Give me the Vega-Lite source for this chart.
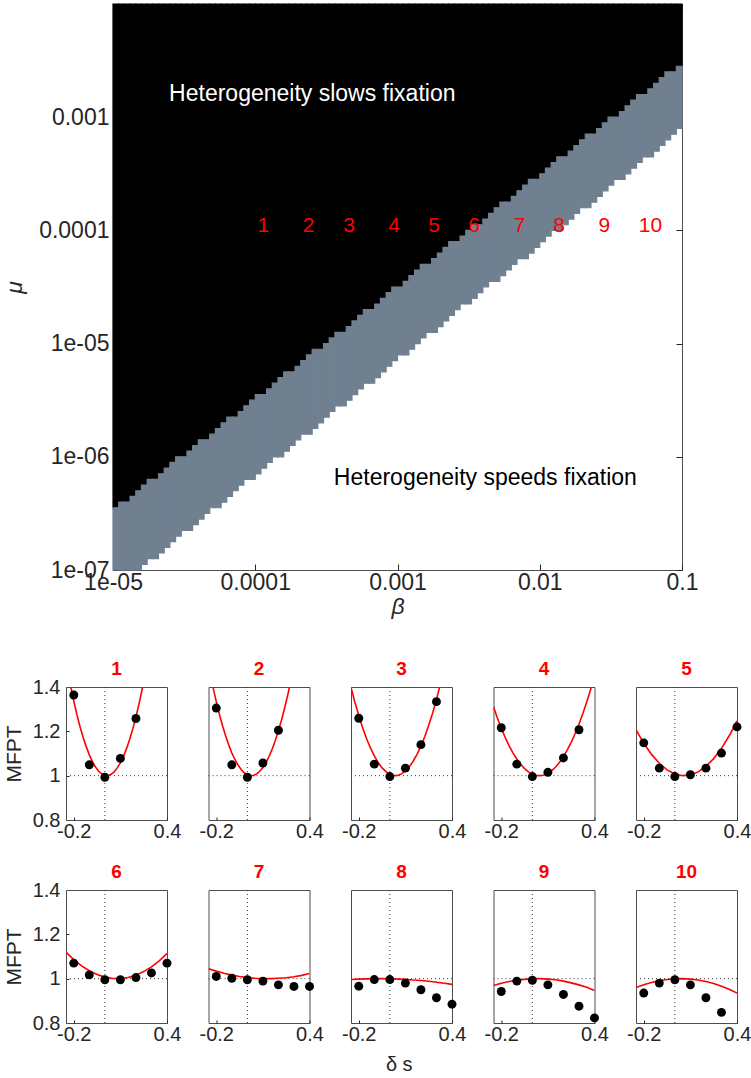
{
"$schema": "https://vega.github.io/schema/vega-lite/v6.json",
"background": "white",
"padding": {"left": 3, "top": 2, "right": 0, "bottom": 5},
"config": {
  "font": "Liberation Sans",
  "view": {"stroke": "#4d4d4d", "strokeWidth": 1},
  "axis": {"labelColor": "#262626", "titleColor": "#262626", "tickColor": "#262626", "domain": false, "grid": false, "labelFont": "Liberation Sans", "titleFont": "Liberation Sans", "titleFontWeight": "normal", "labelFlush": false, "labelOverlap": false}
},
"title": {"text": "δ s", "orient": "bottom", "anchor": "middle", "fontSize": 20, "fontWeight": "normal", "font": "Liberation Sans", "color": "#262626", "offset": 10, "dx": 22},
"datasets": {
"heat": [
{"b":1e-5,"b2":1.0965e-5,"lo":1e-7,"hi":3.5481e-7},
{"b":1.0965e-5,"b2":1.2023e-5,"lo":1e-7,"hi":3.9811e-7},
{"b":1.2023e-5,"b2":1.3183e-5,"lo":1e-7,"hi":3.9811e-7},
{"b":1.3183e-5,"b2":1.4454e-5,"lo":1e-7,"hi":4.4668e-7},
{"b":1.4454e-5,"b2":1.5849e-5,"lo":1e-7,"hi":5.0119e-7},
{"b":1.5849e-5,"b2":1.7378e-5,"lo":1.122e-7,"hi":5.6234e-7},
{"b":1.7378e-5,"b2":1.9055e-5,"lo":1.2589e-7,"hi":6.3096e-7},
{"b":1.9055e-5,"b2":2.0893e-5,"lo":1.2589e-7,"hi":6.3096e-7},
{"b":2.0893e-5,"b2":2.2909e-5,"lo":1.4125e-7,"hi":7.0795e-7},
{"b":2.2909e-5,"b2":2.5119e-5,"lo":1.5849e-7,"hi":7.9433e-7},
{"b":2.5119e-5,"b2":2.7542e-5,"lo":1.7783e-7,"hi":8.9125e-7},
{"b":2.7542e-5,"b2":3.02e-5,"lo":1.9953e-7,"hi":1e-6},
{"b":3.02e-5,"b2":3.3113e-5,"lo":2.2387e-7,"hi":1e-6},
{"b":3.3113e-5,"b2":3.6308e-5,"lo":2.2387e-7,"hi":1.122e-6},
{"b":3.6308e-5,"b2":3.9811e-5,"lo":2.5119e-7,"hi":1.2589e-6},
{"b":3.9811e-5,"b2":4.3652e-5,"lo":2.8184e-7,"hi":1.4125e-6},
{"b":4.3652e-5,"b2":4.7863e-5,"lo":3.1623e-7,"hi":1.4125e-6},
{"b":4.7863e-5,"b2":5.2481e-5,"lo":3.5481e-7,"hi":1.5849e-6},
{"b":5.2481e-5,"b2":5.7544e-5,"lo":3.5481e-7,"hi":1.7783e-6},
{"b":5.7544e-5,"b2":6.3096e-5,"lo":3.9811e-7,"hi":1.9953e-6},
{"b":6.3096e-5,"b2":6.9183e-5,"lo":4.4668e-7,"hi":2.2387e-6},
{"b":6.9183e-5,"b2":7.5858e-5,"lo":5.0119e-7,"hi":2.2387e-6},
{"b":7.5858e-5,"b2":8.3176e-5,"lo":5.6234e-7,"hi":2.5119e-6},
{"b":8.3176e-5,"b2":9.1201e-5,"lo":6.3096e-7,"hi":2.8184e-6},
{"b":9.1201e-5,"b2":1e-4,"lo":6.3096e-7,"hi":3.1623e-6},
{"b":1e-4,"b2":1.0965e-4,"lo":7.0795e-7,"hi":3.5481e-6},
{"b":1.0965e-4,"b2":1.2023e-4,"lo":7.9433e-7,"hi":3.5481e-6},
{"b":1.2023e-4,"b2":1.3183e-4,"lo":8.9125e-7,"hi":3.9811e-6},
{"b":1.3183e-4,"b2":1.4454e-4,"lo":1e-6,"hi":4.4668e-6},
{"b":1.4454e-4,"b2":1.5849e-4,"lo":1e-6,"hi":5.0119e-6},
{"b":1.5849e-4,"b2":1.7378e-4,"lo":1.122e-6,"hi":5.6234e-6},
{"b":1.7378e-4,"b2":1.9055e-4,"lo":1.2589e-6,"hi":5.6234e-6},
{"b":1.9055e-4,"b2":2.0893e-4,"lo":1.4125e-6,"hi":6.3096e-6},
{"b":2.0893e-4,"b2":2.2909e-4,"lo":1.5849e-6,"hi":7.0795e-6},
{"b":2.2909e-4,"b2":2.5119e-4,"lo":1.5849e-6,"hi":7.9433e-6},
{"b":2.5119e-4,"b2":2.7542e-4,"lo":1.7783e-6,"hi":8.9125e-6},
{"b":2.7542e-4,"b2":3.02e-4,"lo":1.9953e-6,"hi":8.9125e-6},
{"b":3.02e-4,"b2":3.3113e-4,"lo":2.2387e-6,"hi":1e-5},
{"b":3.3113e-4,"b2":3.6308e-4,"lo":2.5119e-6,"hi":1.122e-5},
{"b":3.6308e-4,"b2":3.9811e-4,"lo":2.8184e-6,"hi":1.2589e-5},
{"b":3.9811e-4,"b2":4.3652e-4,"lo":2.8184e-6,"hi":1.2589e-5},
{"b":4.3652e-4,"b2":4.7863e-4,"lo":3.1623e-6,"hi":1.4125e-5},
{"b":4.7863e-4,"b2":5.2481e-4,"lo":3.5481e-6,"hi":1.5849e-5},
{"b":5.2481e-4,"b2":5.7544e-4,"lo":3.9811e-6,"hi":1.7783e-5},
{"b":5.7544e-4,"b2":6.3096e-4,"lo":4.4668e-6,"hi":1.9953e-5},
{"b":6.3096e-4,"b2":6.9183e-4,"lo":4.4668e-6,"hi":1.9953e-5},
{"b":6.9183e-4,"b2":7.5858e-4,"lo":5.0119e-6,"hi":2.2387e-5},
{"b":7.5858e-4,"b2":8.3176e-4,"lo":5.6234e-6,"hi":2.5119e-5},
{"b":8.3176e-4,"b2":9.1201e-4,"lo":6.3096e-6,"hi":2.8184e-5},
{"b":9.1201e-4,"b2":1e-3,"lo":7.0795e-6,"hi":3.1623e-5},
{"b":1e-3,"b2":1.0965e-3,"lo":7.9433e-6,"hi":3.1623e-5},
{"b":1.0965e-3,"b2":1.2023e-3,"lo":7.9433e-6,"hi":3.5481e-5},
{"b":1.2023e-3,"b2":1.3183e-3,"lo":8.9125e-6,"hi":3.9811e-5},
{"b":1.3183e-3,"b2":1.4454e-3,"lo":1e-5,"hi":4.4668e-5},
{"b":1.4454e-3,"b2":1.5849e-3,"lo":1.122e-5,"hi":5.0119e-5},
{"b":1.5849e-3,"b2":1.7378e-3,"lo":1.2589e-5,"hi":5.0119e-5},
{"b":1.7378e-3,"b2":1.9055e-3,"lo":1.2589e-5,"hi":5.6234e-5},
{"b":1.9055e-3,"b2":2.0893e-3,"lo":1.4125e-5,"hi":6.3096e-5},
{"b":2.0893e-3,"b2":2.2909e-3,"lo":1.5849e-5,"hi":7.0795e-5},
{"b":2.2909e-3,"b2":2.5119e-3,"lo":1.7783e-5,"hi":7.9433e-5},
{"b":2.5119e-3,"b2":2.7542e-3,"lo":1.9953e-5,"hi":7.9433e-5},
{"b":2.7542e-3,"b2":3.02e-3,"lo":2.2387e-5,"hi":8.9125e-5},
{"b":3.02e-3,"b2":3.3113e-3,"lo":2.2387e-5,"hi":1e-4},
{"b":3.3113e-3,"b2":3.6308e-3,"lo":2.5119e-5,"hi":1.122e-4},
{"b":3.6308e-3,"b2":3.9811e-3,"lo":2.8184e-5,"hi":1.122e-4},
{"b":3.9811e-3,"b2":4.3652e-3,"lo":3.1623e-5,"hi":1.2589e-4},
{"b":4.3652e-3,"b2":4.7863e-3,"lo":3.5481e-5,"hi":1.4125e-4},
{"b":4.7863e-3,"b2":5.2481e-3,"lo":3.5481e-5,"hi":1.5849e-4},
{"b":5.2481e-3,"b2":5.7544e-3,"lo":3.9811e-5,"hi":1.7783e-4},
{"b":5.7544e-3,"b2":6.3096e-3,"lo":4.4668e-5,"hi":1.7783e-4},
{"b":6.3096e-3,"b2":6.9183e-3,"lo":5.0119e-5,"hi":1.9953e-4},
{"b":6.9183e-3,"b2":7.5858e-3,"lo":5.6234e-5,"hi":2.2387e-4},
{"b":7.5858e-3,"b2":8.3176e-3,"lo":5.6234e-5,"hi":2.5119e-4},
{"b":8.3176e-3,"b2":9.1201e-3,"lo":6.3096e-5,"hi":2.8184e-4},
{"b":9.1201e-3,"b2":1e-2,"lo":7.0795e-5,"hi":2.8184e-4},
{"b":1e-2,"b2":1.0965e-2,"lo":7.9433e-5,"hi":3.1623e-4},
{"b":1.0965e-2,"b2":1.2023e-2,"lo":8.9125e-5,"hi":3.5481e-4},
{"b":1.2023e-2,"b2":1.3183e-2,"lo":1e-4,"hi":3.9811e-4},
{"b":1.3183e-2,"b2":1.4454e-2,"lo":1e-4,"hi":4.4668e-4},
{"b":1.4454e-2,"b2":1.5849e-2,"lo":1.122e-4,"hi":4.4668e-4},
{"b":1.5849e-2,"b2":1.7378e-2,"lo":1.2589e-4,"hi":5.0119e-4},
{"b":1.7378e-2,"b2":1.9055e-2,"lo":1.4125e-4,"hi":5.6234e-4},
{"b":1.9055e-2,"b2":2.0893e-2,"lo":1.5849e-4,"hi":6.3096e-4},
{"b":2.0893e-2,"b2":2.2909e-2,"lo":1.5849e-4,"hi":7.0795e-4},
{"b":2.2909e-2,"b2":2.5119e-2,"lo":1.7783e-4,"hi":7.0795e-4},
{"b":2.5119e-2,"b2":2.7542e-2,"lo":1.9953e-4,"hi":7.9433e-4},
{"b":2.7542e-2,"b2":3.02e-2,"lo":2.2387e-4,"hi":8.9125e-4},
{"b":3.02e-2,"b2":3.3113e-2,"lo":2.5119e-4,"hi":1e-3},
{"b":3.3113e-2,"b2":3.6308e-2,"lo":2.8184e-4,"hi":1e-3},
{"b":3.6308e-2,"b2":3.9811e-2,"lo":2.8184e-4,"hi":1.122e-3},
{"b":3.9811e-2,"b2":4.3652e-2,"lo":3.1623e-4,"hi":1.2589e-3},
{"b":4.3652e-2,"b2":4.7863e-2,"lo":3.5481e-4,"hi":1.4125e-3},
{"b":4.7863e-2,"b2":5.2481e-2,"lo":3.9811e-4,"hi":1.5849e-3},
{"b":5.2481e-2,"b2":5.7544e-2,"lo":4.4668e-4,"hi":1.5849e-3},
{"b":5.7544e-2,"b2":6.3096e-2,"lo":4.4668e-4,"hi":1.7783e-3},
{"b":6.3096e-2,"b2":6.9183e-2,"lo":5.0119e-4,"hi":1.9953e-3},
{"b":6.9183e-2,"b2":7.5858e-2,"lo":5.6234e-4,"hi":2.2387e-3},
{"b":7.5858e-2,"b2":8.3176e-2,"lo":6.3096e-4,"hi":2.5119e-3},
{"b":8.3176e-2,"b2":9.1201e-2,"lo":7.0795e-4,"hi":2.5119e-3},
{"b":9.1201e-2,"b2":0.1,"lo":7.9433e-4,"hi":2.8184e-3}
],
"nums": [
{"n":"1","b":1.14e-4,"m":1.1e-4},
{"n":"2","b":2.37e-4,"m":1.1e-4},
{"n":"3","b":4.56e-4,"m":1.1e-4},
{"n":"4","b":9.46e-4,"m":1.1e-4},
{"n":"5","b":1.81e-3,"m":1.1e-4},
{"n":"6","b":3.46e-3,"m":1.1e-4},
{"n":"7","b":7.21e-3,"m":1.1e-4},
{"n":"8","b":1.37e-2,"m":1.1e-4},
{"n":"9","b":2.84e-2,"m":1.1e-4},
{"n":"10","b":6.0e-2,"m":1.1e-4}
],
"slow": [{"t":"Heterogeneity slows fixation","b":2.48e-5,"m":1.6e-3}],
"speed": [{"t":"Heterogeneity speeds fixation","b":3.57e-4,"m":6.5e-7}],
"panels": [
{"p":1,"k":"pt","ds":-0.2,"m":1.364},{"p":1,"k":"pt","ds":-0.1,"m":1.049},{"p":1,"k":"pt","ds":0,"m":0.993},{"p":1,"k":"pt","ds":0.1,"m":1.078},{"p":1,"k":"pt","ds":0.2,"m":1.258},
{"p":2,"k":"pt","ds":-0.2,"m":1.305},{"p":2,"k":"pt","ds":-0.1,"m":1.049},{"p":2,"k":"pt","ds":0,"m":0.993},{"p":2,"k":"pt","ds":0.1,"m":1.057},{"p":2,"k":"pt","ds":0.2,"m":1.205},
{"p":3,"k":"pt","ds":-0.2,"m":1.259},{"p":3,"k":"pt","ds":-0.1,"m":1.052},{"p":3,"k":"pt","ds":0,"m":0.996},{"p":3,"k":"pt","ds":0.1,"m":1.034},{"p":3,"k":"pt","ds":0.2,"m":1.14},{"p":3,"k":"pt","ds":0.3,"m":1.334},
{"p":4,"k":"pt","ds":-0.2,"m":1.216},{"p":4,"k":"pt","ds":-0.1,"m":1.052},{"p":4,"k":"pt","ds":0,"m":0.996},{"p":4,"k":"pt","ds":0.1,"m":1.015},{"p":4,"k":"pt","ds":0.2,"m":1.08},{"p":4,"k":"pt","ds":0.3,"m":1.207},
{"p":5,"k":"pt","ds":-0.2,"m":1.148},{"p":5,"k":"pt","ds":-0.1,"m":1.034},{"p":5,"k":"pt","ds":0,"m":0.996},{"p":5,"k":"pt","ds":0.1,"m":1.004},{"p":5,"k":"pt","ds":0.2,"m":1.034},{"p":5,"k":"pt","ds":0.3,"m":1.102},{"p":5,"k":"pt","ds":0.4,"m":1.22},
{"p":6,"k":"pt","ds":-0.2,"m":1.07},{"p":6,"k":"pt","ds":-0.1,"m":1.017},{"p":6,"k":"pt","ds":0,"m":0.995},{"p":6,"k":"pt","ds":0.1,"m":0.995},{"p":6,"k":"pt","ds":0.2,"m":1.005},{"p":6,"k":"pt","ds":0.3,"m":1.026},{"p":6,"k":"pt","ds":0.4,"m":1.07},
{"p":7,"k":"pt","ds":-0.2,"m":1.01},{"p":7,"k":"pt","ds":-0.1,"m":1.002},{"p":7,"k":"pt","ds":0,"m":0.995},{"p":7,"k":"pt","ds":0.1,"m":0.989},{"p":7,"k":"pt","ds":0.2,"m":0.972},{"p":7,"k":"pt","ds":0.3,"m":0.965},{"p":7,"k":"pt","ds":0.4,"m":0.965},
{"p":8,"k":"pt","ds":-0.2,"m":0.966},{"p":8,"k":"pt","ds":-0.1,"m":0.996},{"p":8,"k":"pt","ds":0,"m":0.996},{"p":8,"k":"pt","ds":0.1,"m":0.98},{"p":8,"k":"pt","ds":0.2,"m":0.95},{"p":8,"k":"pt","ds":0.3,"m":0.914},{"p":8,"k":"pt","ds":0.4,"m":0.885},
{"p":9,"k":"pt","ds":-0.2,"m":0.942},{"p":9,"k":"pt","ds":-0.1,"m":0.989},{"p":9,"k":"pt","ds":0,"m":0.993},{"p":9,"k":"pt","ds":0.1,"m":0.972},{"p":9,"k":"pt","ds":0.2,"m":0.929},{"p":9,"k":"pt","ds":0.3,"m":0.876},{"p":9,"k":"pt","ds":0.4,"m":0.823},
{"p":10,"k":"pt","ds":-0.2,"m":0.935},{"p":10,"k":"pt","ds":-0.1,"m":0.98},{"p":10,"k":"pt","ds":0,"m":0.995},{"p":10,"k":"pt","ds":0.1,"m":0.972},{"p":10,"k":"pt","ds":0.2,"m":0.914},{"p":10,"k":"pt","ds":0.3,"m":0.848},
{"p":1,"k":"fit","ds":-0.24,"m":1.476},{"p":1,"k":"fit","ds":-0.22,"m":1.404},{"p":1,"k":"fit","ds":-0.2,"m":1.337},{"p":1,"k":"fit","ds":-0.18,"m":1.276},{"p":1,"k":"fit","ds":-0.16,"m":1.222},{"p":1,"k":"fit","ds":-0.14,"m":1.173},{"p":1,"k":"fit","ds":-0.12,"m":1.131},{"p":1,"k":"fit","ds":-0.1,"m":1.094},{"p":1,"k":"fit","ds":-0.08,"m":1.063},{"p":1,"k":"fit","ds":-0.06,"m":1.039},{"p":1,"k":"fit","ds":-0.04,"m":1.02},{"p":1,"k":"fit","ds":-0.02,"m":1.008},{"p":1,"k":"fit","ds":0,"m":1.001},{"p":1,"k":"fit","ds":0.02,"m":1.0005},{"p":1,"k":"fit","ds":0.04,"m":1.006},{"p":1,"k":"fit","ds":0.06,"m":1.017},{"p":1,"k":"fit","ds":0.08,"m":1.035},{"p":1,"k":"fit","ds":0.1,"m":1.058},{"p":1,"k":"fit","ds":0.12,"m":1.087},{"p":1,"k":"fit","ds":0.14,"m":1.123},{"p":1,"k":"fit","ds":0.16,"m":1.164},{"p":1,"k":"fit","ds":0.18,"m":1.212},{"p":1,"k":"fit","ds":0.2,"m":1.265},{"p":1,"k":"fit","ds":0.22,"m":1.324},{"p":1,"k":"fit","ds":0.24,"m":1.39},{"p":1,"k":"fit","ds":0.26,"m":1.461},
{"p":2,"k":"fit","ds":-0.24,"m":1.463},{"p":2,"k":"fit","ds":-0.22,"m":1.396},{"p":2,"k":"fit","ds":-0.2,"m":1.334},{"p":2,"k":"fit","ds":-0.18,"m":1.277},{"p":2,"k":"fit","ds":-0.16,"m":1.226},{"p":2,"k":"fit","ds":-0.14,"m":1.18},{"p":2,"k":"fit","ds":-0.12,"m":1.139},{"p":2,"k":"fit","ds":-0.1,"m":1.103},{"p":2,"k":"fit","ds":-0.08,"m":1.073},{"p":2,"k":"fit","ds":-0.06,"m":1.048},{"p":2,"k":"fit","ds":-0.04,"m":1.028},{"p":2,"k":"fit","ds":-0.02,"m":1.013},{"p":2,"k":"fit","ds":0,"m":1.004},{"p":2,"k":"fit","ds":0.02,"m":1.0},{"p":2,"k":"fit","ds":0.04,"m":1.001},{"p":2,"k":"fit","ds":0.06,"m":1.008},{"p":2,"k":"fit","ds":0.08,"m":1.02},{"p":2,"k":"fit","ds":0.1,"m":1.037},{"p":2,"k":"fit","ds":0.12,"m":1.06},{"p":2,"k":"fit","ds":0.14,"m":1.087},{"p":2,"k":"fit","ds":0.16,"m":1.12},{"p":2,"k":"fit","ds":0.18,"m":1.159},{"p":2,"k":"fit","ds":0.2,"m":1.202},{"p":2,"k":"fit","ds":0.22,"m":1.251},{"p":2,"k":"fit","ds":0.24,"m":1.305},{"p":2,"k":"fit","ds":0.26,"m":1.364},{"p":2,"k":"fit","ds":0.28,"m":1.429},
{"p":3,"k":"fit","ds":-0.25,"m":1.398},{"p":3,"k":"fit","ds":-0.225,"m":1.331},{"p":3,"k":"fit","ds":-0.2,"m":1.271},{"p":3,"k":"fit","ds":-0.175,"m":1.216},{"p":3,"k":"fit","ds":-0.15,"m":1.168},{"p":3,"k":"fit","ds":-0.125,"m":1.125},{"p":3,"k":"fit","ds":-0.1,"m":1.089},{"p":3,"k":"fit","ds":-0.075,"m":1.059},{"p":3,"k":"fit","ds":-0.05,"m":1.035},{"p":3,"k":"fit","ds":-0.025,"m":1.018},{"p":3,"k":"fit","ds":0,"m":1.006},{"p":3,"k":"fit","ds":0.025,"m":1.0},{"p":3,"k":"fit","ds":0.05,"m":1.001},{"p":3,"k":"fit","ds":0.075,"m":1.008},{"p":3,"k":"fit","ds":0.1,"m":1.021},{"p":3,"k":"fit","ds":0.125,"m":1.04},{"p":3,"k":"fit","ds":0.15,"m":1.065},{"p":3,"k":"fit","ds":0.175,"m":1.096},{"p":3,"k":"fit","ds":0.2,"m":1.133},{"p":3,"k":"fit","ds":0.225,"m":1.177},{"p":3,"k":"fit","ds":0.25,"m":1.227},{"p":3,"k":"fit","ds":0.275,"m":1.282},{"p":3,"k":"fit","ds":0.3,"m":1.344},{"p":3,"k":"fit","ds":0.325,"m":1.412},{"p":3,"k":"fit","ds":0.35,"m":1.486},
{"p":4,"k":"fit","ds":-0.25,"m":1.311},{"p":4,"k":"fit","ds":-0.225,"m":1.26},{"p":4,"k":"fit","ds":-0.2,"m":1.214},{"p":4,"k":"fit","ds":-0.175,"m":1.173},{"p":4,"k":"fit","ds":-0.15,"m":1.136},{"p":4,"k":"fit","ds":-0.125,"m":1.103},{"p":4,"k":"fit","ds":-0.1,"m":1.075},{"p":4,"k":"fit","ds":-0.075,"m":1.051},{"p":4,"k":"fit","ds":-0.05,"m":1.032},{"p":4,"k":"fit","ds":-0.025,"m":1.017},{"p":4,"k":"fit","ds":0,"m":1.007},{"p":4,"k":"fit","ds":0.025,"m":1.001},{"p":4,"k":"fit","ds":0.05,"m":1.0},{"p":4,"k":"fit","ds":0.075,"m":1.003},{"p":4,"k":"fit","ds":0.1,"m":1.011},{"p":4,"k":"fit","ds":0.125,"m":1.023},{"p":4,"k":"fit","ds":0.15,"m":1.039},{"p":4,"k":"fit","ds":0.175,"m":1.06},{"p":4,"k":"fit","ds":0.2,"m":1.086},{"p":4,"k":"fit","ds":0.225,"m":1.116},{"p":4,"k":"fit","ds":0.25,"m":1.15},{"p":4,"k":"fit","ds":0.275,"m":1.189},{"p":4,"k":"fit","ds":0.3,"m":1.232},{"p":4,"k":"fit","ds":0.325,"m":1.28},{"p":4,"k":"fit","ds":0.35,"m":1.332},{"p":4,"k":"fit","ds":0.375,"m":1.389},{"p":4,"k":"fit","ds":0.4,"m":1.45},
{"p":5,"k":"fit","ds":-0.25,"m":1.208},{"p":5,"k":"fit","ds":-0.2,"m":1.146},{"p":5,"k":"fit","ds":-0.15,"m":1.096},{"p":5,"k":"fit","ds":-0.1,"m":1.056},{"p":5,"k":"fit","ds":-0.05,"m":1.026},{"p":5,"k":"fit","ds":0,"m":1.008},{"p":5,"k":"fit","ds":0.05,"m":1.0},{"p":5,"k":"fit","ds":0.1,"m":1.003},{"p":5,"k":"fit","ds":0.15,"m":1.017},{"p":5,"k":"fit","ds":0.2,"m":1.042},{"p":5,"k":"fit","ds":0.25,"m":1.077},{"p":5,"k":"fit","ds":0.3,"m":1.123},{"p":5,"k":"fit","ds":0.35,"m":1.18},{"p":5,"k":"fit","ds":0.4,"m":1.247},
{"p":6,"k":"fit","ds":-0.25,"m":1.12},{"p":6,"k":"fit","ds":-0.2,"m":1.086},{"p":6,"k":"fit","ds":-0.15,"m":1.058},{"p":6,"k":"fit","ds":-0.1,"m":1.036},{"p":6,"k":"fit","ds":-0.05,"m":1.019},{"p":6,"k":"fit","ds":0,"m":1.007},{"p":6,"k":"fit","ds":0.05,"m":1.001},{"p":6,"k":"fit","ds":0.1,"m":1.0},{"p":6,"k":"fit","ds":0.15,"m":1.005},{"p":6,"k":"fit","ds":0.2,"m":1.016},{"p":6,"k":"fit","ds":0.25,"m":1.032},{"p":6,"k":"fit","ds":0.3,"m":1.053},{"p":6,"k":"fit","ds":0.35,"m":1.08},{"p":6,"k":"fit","ds":0.4,"m":1.113},
{"p":7,"k":"fit","ds":-0.25,"m":1.045},{"p":7,"k":"fit","ds":-0.2,"m":1.034},{"p":7,"k":"fit","ds":-0.15,"m":1.024},{"p":7,"k":"fit","ds":-0.1,"m":1.016},{"p":7,"k":"fit","ds":-0.05,"m":1.01},{"p":7,"k":"fit","ds":0,"m":1.005},{"p":7,"k":"fit","ds":0.05,"m":1.002},{"p":7,"k":"fit","ds":0.1,"m":1.0},{"p":7,"k":"fit","ds":0.15,"m":1.0},{"p":7,"k":"fit","ds":0.2,"m":1.002},{"p":7,"k":"fit","ds":0.25,"m":1.004},{"p":7,"k":"fit","ds":0.3,"m":1.009},{"p":7,"k":"fit","ds":0.35,"m":1.015},{"p":7,"k":"fit","ds":0.4,"m":1.023},
{"p":8,"k":"fit","ds":-0.25,"m":0.996},{"p":8,"k":"fit","ds":-0.2,"m":0.998},{"p":8,"k":"fit","ds":-0.15,"m":0.999},{"p":8,"k":"fit","ds":-0.1,"m":1.0},{"p":8,"k":"fit","ds":-0.05,"m":1.0},{"p":8,"k":"fit","ds":0,"m":0.9995},{"p":8,"k":"fit","ds":0.05,"m":0.998},{"p":8,"k":"fit","ds":0.1,"m":0.997},{"p":8,"k":"fit","ds":0.15,"m":0.994},{"p":8,"k":"fit","ds":0.2,"m":0.992},{"p":8,"k":"fit","ds":0.25,"m":0.988},{"p":8,"k":"fit","ds":0.3,"m":0.984},{"p":8,"k":"fit","ds":0.35,"m":0.979},{"p":8,"k":"fit","ds":0.4,"m":0.974},
{"p":9,"k":"fit","ds":-0.25,"m":0.969},{"p":9,"k":"fit","ds":-0.2,"m":0.979},{"p":9,"k":"fit","ds":-0.15,"m":0.987},{"p":9,"k":"fit","ds":-0.1,"m":0.993},{"p":9,"k":"fit","ds":-0.05,"m":0.997},{"p":9,"k":"fit","ds":0,"m":1.0},{"p":9,"k":"fit","ds":0.05,"m":1.0},{"p":9,"k":"fit","ds":0.1,"m":0.998},{"p":9,"k":"fit","ds":0.15,"m":0.995},{"p":9,"k":"fit","ds":0.2,"m":0.989},{"p":9,"k":"fit","ds":0.25,"m":0.981},{"p":9,"k":"fit","ds":0.3,"m":0.972},{"p":9,"k":"fit","ds":0.35,"m":0.961},{"p":9,"k":"fit","ds":0.4,"m":0.947},
{"p":10,"k":"fit","ds":-0.25,"m":0.96},{"p":10,"k":"fit","ds":-0.2,"m":0.973},{"p":10,"k":"fit","ds":-0.15,"m":0.983},{"p":10,"k":"fit","ds":-0.1,"m":0.991},{"p":10,"k":"fit","ds":-0.05,"m":0.996},{"p":10,"k":"fit","ds":0,"m":0.999},{"p":10,"k":"fit","ds":0.05,"m":1.0},{"p":10,"k":"fit","ds":0.1,"m":0.998},{"p":10,"k":"fit","ds":0.15,"m":0.994},{"p":10,"k":"fit","ds":0.2,"m":0.987},{"p":10,"k":"fit","ds":0.25,"m":0.978},{"p":10,"k":"fit","ds":0.3,"m":0.966},{"p":10,"k":"fit","ds":0.35,"m":0.952},{"p":10,"k":"fit","ds":0.4,"m":0.935}
]
},
"concat": [
{
  "hconcat": [
    {"width": 1, "height": 1, "data": {"values": []}, "mark": {"type": "point", "opacity": 0}, "view": {"stroke": null}},
    {
      "width": 569,
      "height": 566,
      "layer": [
        {
          "data": {"name": "heat"},
          "mark": {"type": "rect", "color": "black", "stroke": "black", "strokeWidth": 1.2},
          "encoding": {
            "x": {"field": "b", "type": "quantitative", "scale": {"type": "log", "domain": [1e-5, 0.1], "nice": false}, "axis": {"orient": "bottom", "values": [1e-5, 1e-4, 1e-3, 1e-2, 1e-1], "labelExpr": "datum.value < 5e-5 ? '1e-05' : datum.value < 5e-4 ? '0.0001' : datum.value < 5e-3 ? '0.001' : datum.value < 5e-2 ? '0.01' : '0.1'", "labelFontSize": 23, "tickSize": -6, "labelPadding": 7, "title": "β", "titleFontStyle": "italic", "titleFontSize": 23, "titlePadding": 1}},
            "x2": {"field": "b2"},
            "y": {"field": "hi", "type": "quantitative", "scale": {"type": "log", "domain": [1e-7, 0.01], "nice": false}, "axis": {"orient": "left", "values": [1e-7, 1e-6, 1e-5, 1e-4, 1e-3], "labelExpr": "datum.value < 5e-7 ? '1e-07' : datum.value < 5e-6 ? '1e-06' : datum.value < 5e-5 ? '1e-05' : datum.value < 5e-4 ? '0.0001' : '0.001'", "labelFontSize": 23, "tickSize": -6, "labelPadding": 10, "title": "μ", "titleFontStyle": "italic", "titleFontSize": 23, "titlePadding": 12}},
            "y2": {"datum": 0.01}
          }
        },
        {
          "data": {"name": "heat"},
          "mark": {"type": "rect", "color": "#708090", "stroke": "#708090", "strokeWidth": 1.2},
          "encoding": {
            "x": {"field": "b", "type": "quantitative", "scale": {"type": "log", "domain": [1e-5, 0.1], "nice": false}, "axis": {"orient": "top", "values": [1e-5, 1e-4, 1e-3, 1e-2, 1e-1], "labels": false, "tickSize": -6, "title": null}},
            "x2": {"field": "b2"},
            "y": {"field": "lo", "type": "quantitative", "scale": {"type": "log", "domain": [1e-7, 0.01], "nice": false}, "axis": {"orient": "right", "values": [1e-7, 1e-6, 1e-5, 1e-4, 1e-3], "labels": false, "tickSize": -6, "title": null}},
            "y2": {"field": "hi"}
          }
        },
        {
          "data": {"name": "nums"},
          "mark": {"type": "text", "color": "#ff0000", "fontSize": 21, "align": "center", "baseline": "middle", "font": "Liberation Sans"},
          "encoding": {
            "x": {"field": "b", "type": "quantitative", "scale": {"type": "log", "domain": [1e-5, 0.1], "nice": false}, "axis": null},
            "y": {"field": "m", "type": "quantitative", "scale": {"type": "log", "domain": [1e-7, 0.01], "nice": false}, "axis": null},
            "text": {"field": "n"}
          }
        },
        {
          "data": {"name": "slow"},
          "mark": {"type": "text", "color": "white", "fontSize": 23, "align": "left", "baseline": "middle", "font": "Liberation Sans"},
          "encoding": {
            "x": {"field": "b", "type": "quantitative", "scale": {"type": "log", "domain": [1e-5, 0.1], "nice": false}, "axis": null},
            "y": {"field": "m", "type": "quantitative", "scale": {"type": "log", "domain": [1e-7, 0.01], "nice": false}, "axis": null},
            "text": {"field": "t"}
          }
        },
        {
          "data": {"name": "speed"},
          "mark": {"type": "text", "color": "black", "fontSize": 23, "align": "left", "baseline": "middle", "font": "Liberation Sans"},
          "encoding": {
            "x": {"field": "b", "type": "quantitative", "scale": {"type": "log", "domain": [1e-5, 0.1], "nice": false}, "axis": null},
            "y": {"field": "m", "type": "quantitative", "scale": {"type": "log", "domain": [1e-7, 0.01], "nice": false}, "axis": null},
            "text": {"field": "t"}
          }
        }
      ],
      "resolve": {"axis": {"x": "independent", "y": "independent"}}
    }
  ],
  "bounds": "flush",
  "spacing": 46
},
{
  "data": {"name": "panels"},
  "facet": {"field": "p", "type": "ordinal", "title": null, "header": {"labelColor": "#ff0000", "labelFontWeight": "bold", "labelFontSize": 19, "labelFont": "Liberation Sans", "labelPadding": 8}},
  "columns": 5,
  "bounds": "flush",
  "spacing": {"column": 41.5, "row": 70},
  "spec": {
    "width": 101,
    "height": 133,
    "layer": [
      {
        "transform": [{"filter": "datum.k == 'pt' && datum.ds == 0"}],
        "mark": {"type": "rule", "color": "#333333", "strokeWidth": 1, "strokeDash": [1, 3]},
        "encoding": {
          "x": {"field": "ds", "type": "quantitative", "scale": {"domain": [-0.25, 0.4], "nice": false, "zero": false}, "title": null, "axis": {"values": [-0.2, 0.4], "labelExpr": "replace(format(datum.value, '.1f'), '−', '-')", "labelFontSize": 20, "tickSize": -3, "labelPadding": 4}}
        }
      },
      {
        "transform": [{"filter": "datum.k == 'pt' && datum.ds == 0"}],
        "mark": {"type": "rule", "color": "#333333", "strokeWidth": 1, "strokeDash": [1, 3]},
        "encoding": {
          "y": {"datum": 1, "type": "quantitative", "scale": {"domain": [0.8, 1.4], "nice": false, "zero": false}, "title": "MFPT", "axis": {"values": [0.8, 1, 1.2, 1.4], "format": "~g", "labelFontSize": 20, "tickSize": -3, "labelPadding": 9, "titleFontSize": 21, "titlePadding": 8}}
        }
      },
      {
        "transform": [{"filter": "datum.k == 'fit'"}],
        "mark": {"type": "line", "color": "#ff0000", "strokeWidth": 1.6, "clip": true},
        "encoding": {
          "x": {"field": "ds", "type": "quantitative", "scale": {"domain": [-0.25, 0.4], "nice": false, "zero": false}, "title": null, "axis": {"values": [-0.2, 0.4], "labelExpr": "replace(format(datum.value, '.1f'), '−', '-')", "labelFontSize": 20, "tickSize": -3, "labelPadding": 4}},
          "y": {"field": "m", "type": "quantitative", "scale": {"domain": [0.8, 1.4], "nice": false, "zero": false}, "title": "MFPT", "axis": {"values": [0.8, 1, 1.2, 1.4], "format": "~g", "labelFontSize": 20, "tickSize": -3, "labelPadding": 9, "titleFontSize": 21, "titlePadding": 8}}
        }
      },
      {
        "transform": [{"filter": "datum.k == 'pt'"}],
        "mark": {"type": "circle", "color": "black", "size": 80, "opacity": 1},
        "encoding": {
          "x": {"field": "ds", "type": "quantitative", "scale": {"domain": [-0.25, 0.4], "nice": false, "zero": false}, "title": null, "axis": {"values": [-0.2, 0.4], "labelExpr": "replace(format(datum.value, '.1f'), '−', '-')", "labelFontSize": 20, "tickSize": -3, "labelPadding": 4}},
          "y": {"field": "m", "type": "quantitative", "scale": {"domain": [0.8, 1.4], "nice": false, "zero": false}, "title": "MFPT", "axis": {"values": [0.8, 1, 1.2, 1.4], "format": "~g", "labelFontSize": 20, "tickSize": -3, "labelPadding": 9, "titleFontSize": 21, "titlePadding": 8}}
        }
      }
    ]
  },
  "resolve": {"axis": {"x": "independent"}}
}
],
"columns": 1,
"spacing": 40
}
